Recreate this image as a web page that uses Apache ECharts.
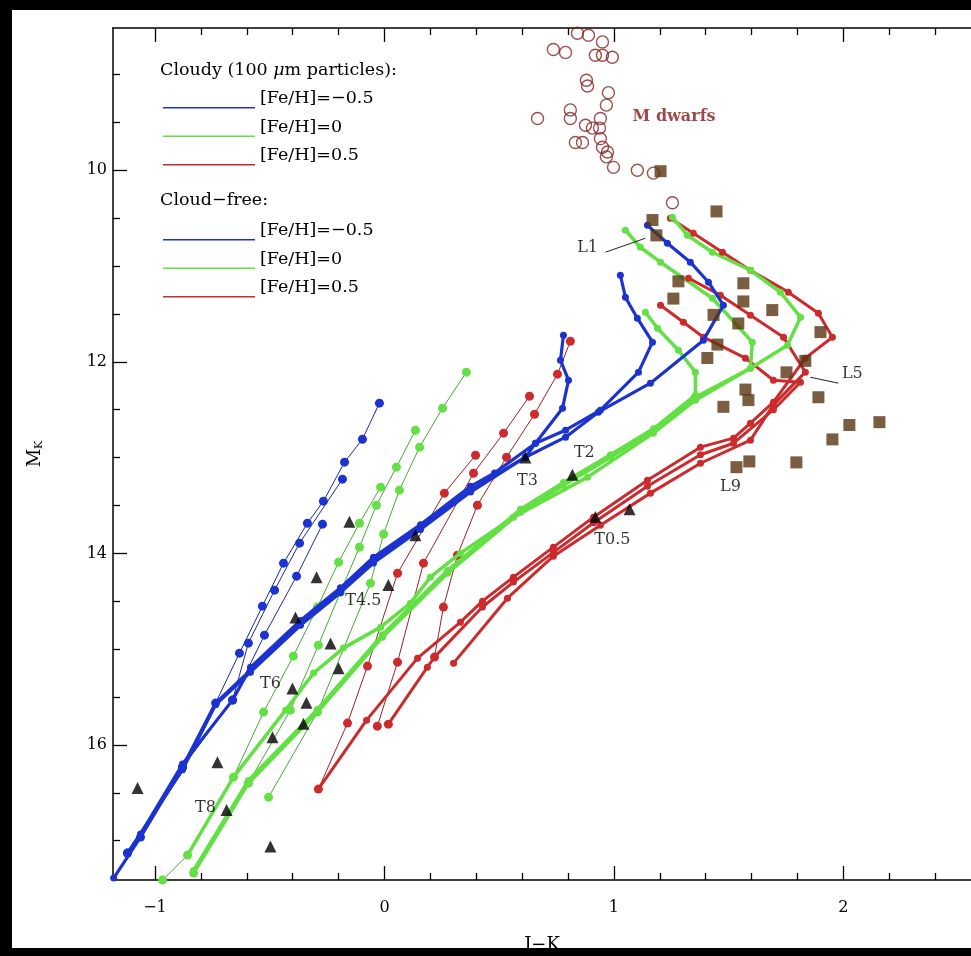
<!DOCTYPE html>
<html><head><meta charset="utf-8">
<script src="https://cdn.jsdelivr.net/npm/echarts@6/dist/echarts.min.js"></script>
<style>html,body{margin:0;padding:0;background:#fff}#c{width:971px;height:956px}</style>
</head><body><div id="c"></div>
<script>
// ---------- data ----------
const xMajor = [-1, 0, 1, 2];
const xMinor = [-1.2,-0.8,-0.6,-0.4,-0.2,0.2,0.4,0.6,0.8,1.2,1.4,1.6,1.8,2.2,2.4];
const yMajor = [10, 12, 14, 16];
const yMinor = [9,9.5,10.5,11,11.5,12.5,13,13.5,14.5,15,15.5,16.5,17];

const cloudyBlueA = [[1.146,10.574],[1.233,10.762],[1.333,10.960],[1.412,11.169],[1.477,11.409],[1.390,11.774],[1.159,12.223],[0.932,12.526],[0.789,12.787],[0.614,12.996],[0.375,13.340],[0.157,13.726],[-0.048,14.071],[-0.192,14.384],[-0.366,14.728],[-0.584,15.219],[-0.736,15.563],[-0.880,16.231],[-1.063,16.962],[-1.18,17.39]];
const cloudyBlueB = [[1.028,11.096],[1.050,11.326],[1.102,11.545],[1.168,11.795],[1.107,12.108],[0.941,12.505],[0.789,12.714],[0.658,12.850],[0.480,13.16],[0.375,13.30],[0.157,13.70],[-0.048,14.04],[-0.192,14.36],[-0.366,14.70],[-0.584,15.19],[-0.662,15.532],[-0.880,16.20],[-1.063,16.93]];
const cloudyBlueC = [[0.780,11.722],[0.767,11.983],[0.802,12.192],[0.776,12.484],[0.658,12.850],[0.614,12.996],[0.375,13.36],[0.157,13.75],[-0.048,14.10],[-0.192,14.41],[-0.366,14.75],[-0.584,15.24],[-0.736,15.58],[-0.880,16.26],[-1.120,17.129]];
const cloudyGreenA = [[1.255,10.491],[1.320,10.678],[1.429,10.856],[1.595,11.044],[1.725,11.273],[1.813,11.534],[1.756,11.827],[1.595,12.067],[1.355,12.401],[1.172,12.745],[0.885,13.204],[0.562,13.622],[0.331,13.998],[0.200,14.248],[0.113,14.520],[-0.017,14.770],[-0.179,14.989],[-0.309,15.250],[-0.431,15.637],[-0.658,16.336],[-0.858,17.150]];
const cloudyGreenB = [[1.050,10.626],[1.115,10.804],[1.203,10.960],[1.429,11.336],[1.603,11.795],[1.595,12.067],[1.346,12.380],[1.172,12.714],[0.985,12.996],[0.780,13.288],[0.593,13.570],[0.275,14.207],[-0.009,14.875],[-0.292,15.657],[-0.593,16.399],[-0.832,17.338]];
const cloudyGreenC = [[1.137,11.482],[1.190,11.649],[1.281,11.879],[1.355,12.108],[1.355,12.349],[1.172,12.70],[0.985,12.97],[0.780,13.26],[0.593,13.54],[0.275,14.18],[-0.009,14.85],[-0.292,15.63],[-0.593,16.37],[-0.832,17.31]];
const cloudyRedA = [[1.246,10.501],[1.346,10.658],[1.473,10.856],[1.595,11.044],[1.760,11.273],[1.891,11.493],[1.952,11.743],[1.834,11.962],[1.695,12.422],[1.595,12.641],[1.521,12.797],[1.377,12.891],[1.146,13.236],[0.911,13.622],[0.736,13.935],[0.562,14.248],[0.427,14.499],[0.331,14.718],[0.144,15.094],[-0.078,15.741],[-0.288,16.461]];
const cloudyRedB = [[1.325,11.127],[1.464,11.305],[1.595,11.514],[1.739,11.743],[1.834,12.108],[1.695,12.45],[1.595,12.818],[1.377,13.059],[1.159,13.371],[0.941,13.706],[0.736,14.029],[0.536,14.468],[0.301,15.146]];
const cloudyRedC = [[1.203,11.409],[1.303,11.587],[1.390,11.743],[1.573,11.962],[1.695,12.192],[1.813,12.213],[1.695,12.50],[1.521,12.85],[1.377,12.97],[1.146,13.30],[0.911,13.68],[0.736,13.99],[0.562,14.30],[0.427,14.56],[0.218,15.083],[0.187,15.188],[0.017,15.783]];

const freeBlueA = [[-0.022,12.432],[-0.096,12.808],[-0.174,13.048],[-0.266,13.455],[-0.336,13.685],[-0.440,14.102],[-0.532,14.551],[-0.632,15.042],[-0.736,15.563],[-0.880,16.231],[-1.063,16.962]];
const freeBlueB = [[-0.183,13.225],[-0.370,13.893],[-0.479,14.384],[-0.593,14.937],[-0.662,15.532],[-0.880,16.231],[-1.120,17.129]];
const freeBlueC = [[-0.270,13.695],[-0.383,14.238],[-0.523,14.854],[-0.662,15.532],[-0.880,16.231],[-1.120,17.129]];
const freeGreenA = [[0.357,12.108],[0.253,12.484],[0.153,12.891],[0.065,13.340],[-0.004,13.799],[-0.061,14.311],[-0.292,15.657],[-0.505,16.545]];
const freeGreenB = [[0.135,12.714],[0.052,13.100],[-0.035,13.497],[-0.109,13.935],[-0.192,14.405],[-0.288,14.958],[-0.410,15.637],[-0.593,16.399],[-0.832,17.338]];
const freeGreenC = [[-0.017,13.309],[-0.109,13.685],[-0.200,14.092],[-0.292,14.561],[-0.397,15.073],[-0.527,15.657],[-0.658,16.336],[-0.858,17.150],[-0.967,17.411]];
const freeRedA = [[0.810,11.785],[0.754,12.129],[0.654,12.547],[0.532,12.996],[0.405,13.497],[0.318,14.019],[0.257,14.561],[0.218,15.083],[0.017,15.783]];
const freeRedB = [[0.632,12.359],[0.519,12.745],[0.388,13.163],[0.170,14.102],[0.057,15.136],[-0.031,15.804]];
const freeRedC = [[0.397,12.975],[0.261,13.371],[0.057,14.207],[-0.074,15.177],[-0.161,15.772],[-0.288,16.461]];

const mDwarfs = [[0.841,8.57],[0.889,8.59],[0.95,8.66],[0.736,8.74],[0.789,8.77],[0.919,8.80],[0.95,8.80],[0.993,8.82],[0.880,9.06],[0.885,9.12],[0.976,9.19],[0.967,9.32],[0.667,9.46],[0.810,9.37],[0.810,9.46],[0.876,9.53],[0.906,9.56],[0.941,9.46],[0.937,9.56],[0.832,9.71],[0.863,9.71],[0.941,9.67],[0.95,9.76],[0.972,9.81],[0.967,9.86],[0.998,9.97],[1.102,10.00],[1.172,10.03],[1.255,10.34]];
const lDwarfs = [[1.203,10.01],[1.168,10.52],[1.447,10.43],[1.185,10.68],[1.281,11.16],[1.564,11.18],[1.259,11.34],[1.564,11.37],[1.69,11.46],[1.434,11.51],[1.542,11.60],[1.90,11.69],[1.451,11.82],[1.407,11.96],[1.834,11.99],[1.752,12.11],[1.573,12.29],[1.586,12.40],[1.891,12.37],[1.477,12.47],[2.157,12.63],[2.026,12.66],[1.952,12.81],[1.59,13.04],[1.534,13.10],[1.795,13.05]];
const tDwarfs = [[-0.153,13.67],[-0.296,14.25],[-0.388,14.67],[-0.235,14.94],[-0.200,15.20],[-0.401,15.41],[-0.340,15.56],[-0.353,15.78],[-0.488,15.92],[-0.728,16.18],[-1.076,16.45],[-0.688,16.68],[-0.497,17.06],[0.017,14.33],[0.135,13.81],[0.614,13.0],[0.819,13.18],[0.919,13.62],[1.068,13.54]];

const annoNames = ['L1','L5','L9','T2','T3','T0.5','T4.5','T6','T8'];
const annoX = [0.885,2.039,1.508,0.871,0.623,0.993,-0.092,-0.497,-0.780];
const annoY = [10.814,12.129,13.309,12.954,13.246,13.862,14.499,15.365,16.660];
const leaderL1 = [[0.963,10.856],[1.137,10.710]];
const leaderL5 = [[1.856,12.161],[1.978,12.223]];
const mLabel = [1.262,9.447];

const legendLabels = ['[Fe/H]=\u22120.5','[Fe/H]=0','[Fe/H]=0.5'];

const FONT = '"DejaVu Serif", "Liberation Serif", serif';
const BLUE = '#1d33cf', GREEN = '#62e044', RED = '#cc2a2c';
const BLUE_L = '#1a2a9e', GREEN_L = '#45a838', RED_L = '#9a2222';
const xMin = -1.183, xMax = 2.556, yMin = 8.515, yMax = 17.41;
const fmt = v => v < 0 ? '\u2212' + (-v) : String(v);

function track(name, data, color, lineColor, width, size, z) {
  return { type: 'line', name, data, symbol: 'circle', symbolSize: size, showSymbol: true,
    itemStyle: { color }, lineStyle: { color: lineColor, width }, z, silent: true, clip: true };
}
const cN = legendLabels.map(s => 'cloudy#' + s);
const fN = legendLabels.map(s => 'free#' + s);
const series = [
  track(fN[2], freeRedA, RED, RED_L, 1, 9, 2), track(fN[2], freeRedB, RED, RED_L, 1, 9, 2), track(fN[2], freeRedC, RED, RED_L, 1, 9, 2),
  track(fN[1], freeGreenA, GREEN, GREEN_L, 1, 9, 2), track(fN[1], freeGreenB, GREEN, GREEN_L, 1, 9, 2), track(fN[1], freeGreenC, GREEN, GREEN_L, 1, 9, 2),
  track(fN[0], freeBlueA, BLUE, BLUE_L, 1, 9, 2), track(fN[0], freeBlueB, BLUE, BLUE_L, 1, 9, 2), track(fN[0], freeBlueC, BLUE, BLUE_L, 1, 9, 2),
  track(cN[2], cloudyRedA, RED, RED, 3, 7, 3), track(cN[2], cloudyRedB, RED, RED, 3, 7, 3), track(cN[2], cloudyRedC, RED, RED, 3, 7, 3),
  track(cN[1], cloudyGreenA, GREEN, GREEN, 3.5, 7, 3), track(cN[1], cloudyGreenB, GREEN, GREEN, 3.5, 7, 3), track(cN[1], cloudyGreenC, GREEN, GREEN, 3.5, 7, 3),
  track(cN[0], cloudyBlueA, BLUE, BLUE, 3.2, 7, 4), track(cN[0], cloudyBlueB, BLUE, BLUE, 3.2, 7, 4), track(cN[0], cloudyBlueC, BLUE, BLUE, 3.2, 7, 4),
  { type: 'scatter', name: 'M dwarfs', data: mDwarfs, symbol: 'circle', symbolSize: 12,
    itemStyle: { color: 'rgba(255,255,255,0)', borderColor: '#862222', borderWidth: 1.4 }, z: 5, silent: true },
  { type: 'scatter', name: 'L dwarfs', data: lDwarfs, symbol: 'rect', symbolSize: 12,
    itemStyle: { color: '#5a3413' }, z: 6, silent: true },
  { type: 'scatter', name: 'T dwarfs', data: tDwarfs, symbol: 'triangle', symbolSize: 12,
    itemStyle: { color: '#000' }, z: 7, silent: true },
  { type: 'line', name: 'leader1', data: leaderL1, symbol: 'none', lineStyle: { color: '#222', width: 1 }, z: 7, silent: true },
  { type: 'line', name: 'leader2', data: leaderL5, symbol: 'none', lineStyle: { color: '#222', width: 1 }, z: 7, silent: true },
  { type: 'scatter', name: 'labels', symbolSize: 0, z: 8, silent: true,
    data: annoNames.map((n, i) => ({ name: n, value: [annoX[i], annoY[i]] })).concat([
      { name: 'M dwarfs', value: mLabel, label: { color: '#861c1c', fontWeight: 'bold', fontSize: 16 } }]),
    label: { show: true, position: 'inside', formatter: '{b}', color: '#000', fontFamily: FONT, fontSize: 16 } }
];

const axisLine = { show: true, onZero: false, lineStyle: { color: '#000', width: 1.5 } };
const noLine = { show: false, onZero: false };
const tickStyle = { color: '#000', width: 1.3 };
function xAx(pos, vals, len, labels, line) {
  return { type: 'value', position: pos, min: xMin, max: xMax, splitLine: { show: false },
    axisLine: line ? axisLine : noLine,
    axisTick: { show: true, inside: true, length: len, customValues: vals, lineStyle: tickStyle },
    axisLabel: labels ? { show: true, customValues: vals, formatter: fmt, color: '#000', fontFamily: FONT, fontSize: 16, margin: 20 } : { show: false } };
}
const ICON = 'path://M0,0L0.01,0L0,0.01Z M0,18L92,18L92,19.6L0,19.6Z';
function legend(names, top) {
  return { show: true, orient: 'vertical', left: 158, top, data: names, icon: ICON,
    itemWidth: 92, itemHeight: 19.6, itemGap: 8.9, itemTextGap: 2, selectedMode: false,
    formatter: n => n.split('#')[1],
    textStyle: { fontFamily: FONT, fontSize: 17.5, color: '#000', lineHeight: 19 } };
}

const option = {
  animation: false,
  backgroundColor: '#fff',
  grid: { left: 113, right: 0, top: 28, bottom: 76, containLabel: false, outerBoundsMode: 'none' },
  xAxis: [
    Object.assign(xAx('bottom', xMajor, 14, true, true), { name: 'J\u2212K', nameLocation: 'middle', nameGap: 56,
      nameTextStyle: { fontFamily: FONT, fontSize: 18, color: '#000' } }),
    xAx('bottom', xMinor, 7, false, false),
    xAx('top', xMajor, 14, false, true),
    xAx('top', xMinor, 7, false, false)
  ],
  yAxis: [
    { type: 'value', inverse: true, position: 'left', min: yMin, max: yMax, splitLine: { show: false },
      axisLine, axisTick: { show: true, inside: true, length: 14, customValues: yMajor, lineStyle: tickStyle },
      axisLabel: { show: true, customValues: yMajor, color: '#000', fontFamily: FONT, fontSize: 16, margin: 6 },
      name: 'M{s|K}', nameLocation: 'middle', nameGap: 68, nameRotate: 90,
      nameTextStyle: { fontFamily: FONT, fontSize: 18, color: '#000', rich: { s: { fontFamily: FONT, fontSize: 11, verticalAlign: 'bottom', padding: [8, 0, 0, 0] } } } },
    { type: 'value', inverse: true, position: 'left', min: yMin, max: yMax, splitLine: { show: false },
      axisLine: noLine, axisLabel: { show: false },
      axisTick: { show: true, inside: true, length: 7, customValues: yMinor, lineStyle: tickStyle } }
  ],
  legend: [legend(cN, 84), legend(fN, 216)],
  series,
  graphic: { elements: [
    { type: 'text', x: 160, y: 70, z: 50, style: { text: '{t|Cloudy (100 }{i|\u03bc}{t|m particles):}', verticalAlign: 'middle',
      rich: { t: { fontFamily: FONT, fontSize: 17.5, fill: '#000' }, i: { fontFamily: FONT, fontSize: 17.5, fontStyle: 'italic', fill: '#000' } } } },
    { type: 'text', x: 160, y: 200, z: 50, style: { text: 'Cloud\u2212free:', verticalAlign: 'middle', fontFamily: FONT, fontSize: 17.5, fill: '#000' } },
    { type: 'rect', z: 100, shape: { x: 0, y: 0, width: 971, height: 10 }, style: { fill: '#000' } },
    { type: 'rect', z: 100, shape: { x: 0, y: 0, width: 12, height: 956 }, style: { fill: '#000' } },
    { type: 'rect', z: 100, shape: { x: 0, y: 948, width: 971, height: 8 }, style: { fill: '#000' } }
  ] }
};
const chart = echarts.init(document.getElementById('c'), null, { renderer: 'canvas' });
chart.setOption(option);
</script></body></html>
